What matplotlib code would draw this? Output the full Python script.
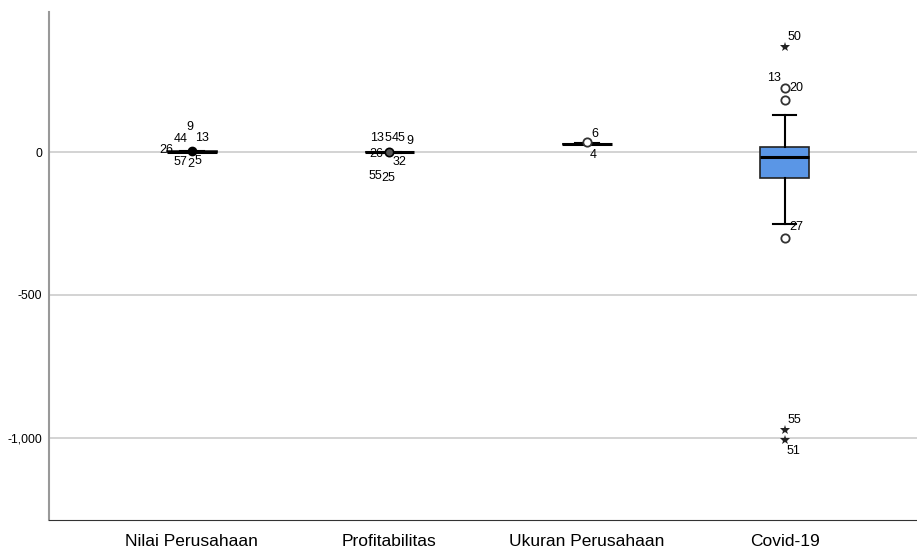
import matplotlib.pyplot as plt
from matplotlib.ticker import FuncFormatter

plt.rcParams['font.family'] = ['Liberation Sans', 'DejaVu Sans']

# Kategori
variabel = ['Nilai Perusahaan', 'Profitabilitas', 'Ukuran Perusahaan', 'Covid-19']

# Statistik boxplot
q1 = [1, -1, 28, -91]
med = [2, 0, 29, -17]
q3 = [3, 1, 30, 18]
whislo = [0, -2, 27, -252]
whishi = [4, 2, 31, 129]

# Outlier (lingkaran) dan ekstrem (bintang)
outlier_idx = [0, 1, 2, 3, 3, 3]
outlier_val = [3, 0, 35, 224, 182, -301]
ekstrem_idx = [3, 3, 3]
ekstrem_val = [367, -972, -1007]

# Label kasus: (indeks variabel, nilai acuan, dx px, dy px, teks)
label_kasus = [
    (0, 3, -2, 24, '9'), (0, 3, -11, 12, '44'), (0, 3, 10, 13, '13'),
    (0, 3, -26, 1, '26'), (0, 3, -11, -11, '57'), (0, 3, -1, -13, '2'),
    (0, 3, 6, -10, '5'),
    (1, 0, -12, 14, '13'), (1, 0, -1, 14, '5'), (1, 0, 9, 14, '45'),
    (1, 0, 20, 11, '9'), (1, 0, -13, -2, '26'), (1, 0, 10, -10, '32'),
    (1, 0, -14, -24, '55'), (1, 0, -1, -26, '25'),
    (2, 35, 8, 8, '6'), (2, 35, 6, -13, '4'),
    (3, 224, 12, 0, '20'), (3, 224, -11, 10, '13'), (3, -301, 12, 11, '27'),
    (3, 367, 10, 10, '50'), (3, -972, 10, 10, '55'), (3, -1007, 9, -11, '51'),
]

fig = plt.figure(figsize=(9.17, 5.49), dpi=100)
ax = fig.add_axes([0.0534, 0.053, 0.9466, 0.925])

stats = []
for i in range(len(variabel)):
    stats.append({'med': med[i], 'q1': q1[i], 'q3': q3[i],
                  'whislo': whislo[i], 'whishi': whishi[i], 'fliers': []})

pos = [1, 2, 3, 4]
ax.bxp(stats, positions=pos, widths=0.25, patch_artist=True,
       showfliers=False,
       boxprops=dict(facecolor='#5A96E6', edgecolor='#222222', linewidth=1.2),
       medianprops=dict(color='black', linewidth=2.2),
       whiskerprops=dict(color='black', linewidth=1.5),
       capprops=dict(color='black', linewidth=1.5),
       capwidths=0.12, zorder=3)

for i, v in zip(outlier_idx, outlier_val):
    if i == 0:
        ax.plot(pos[i], v, 'o', color='black', ms=6, zorder=5)
    elif i == 1:
        ax.plot(pos[i], v, 'o', mfc='#555555', mec='black', ms=6, mew=1.2, zorder=5)
    else:
        ax.plot(pos[i], v, 'o', mfc='white', mec='#333333', ms=6, mew=1.3, zorder=5)

for i, v in zip(ekstrem_idx, ekstrem_val):
    ax.plot(pos[i], v, marker='*', color='#222222', ms=7, mew=0, zorder=5)

for i, v, dx, dy, t in label_kasus:
    ax.annotate(t, (pos[i], v), xytext=(dx, dy), textcoords='offset pixels',
                fontsize=9, ha='center', va='center', zorder=6)

ax.set_xlim(0.277, 4.67)
ax.set_ylim(-1287, 490)
ax.set_yticks([0, -500, -1000])
ax.yaxis.set_major_formatter(FuncFormatter(lambda v, p: f'{int(v):,}'))
ax.set_xticks(pos)
ax.set_xticklabels(variabel, fontsize=12.5)
ax.tick_params(axis='y', labelsize=8.8, length=0, pad=5)
ax.tick_params(axis='x', length=0, pad=10)
ax.grid(axis='y', color='#cccccc', linewidth=1.2, zorder=0)
ax.set_axisbelow(True)
for s in ['top', 'right']:
    ax.spines[s].set_visible(False)
ax.spines['left'].set_color('#999999')
ax.spines['left'].set_linewidth(1.5)
ax.spines['bottom'].set_color('#333333')

plt.savefig('out.png', dpi=100)
